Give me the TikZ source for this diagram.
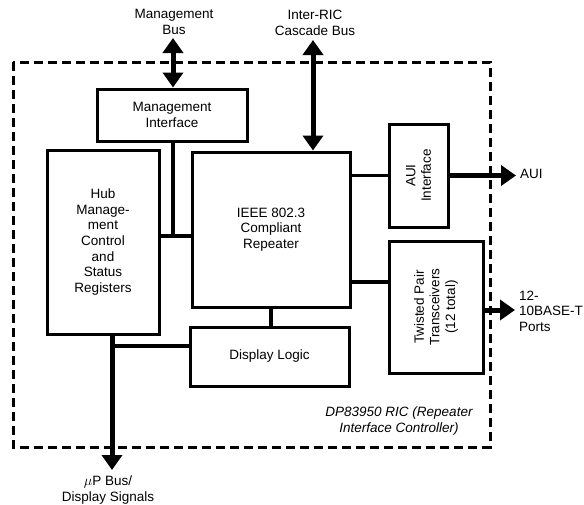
\documentclass[tikz,border=0pt]{standalone}
\usepackage{fontspec}
\setmainfont{Liberation Sans}
\usetikzlibrary{arrows.meta}

\begin{document}
\begin{tikzpicture}[x=1pt, y=-1pt,
  every node/.style={font=\fontsize{13.5}{15.6}\selectfont, align=center, inner sep=0pt},
  bloc/.style={draw, line width=3pt},
  lien/.style={line width=3.5pt},
  fleche/.style={line width=5pt, -{Triangle[length=15pt,width=20pt]}},
  fleche2/.style={line width=5pt, {Triangle[length=15pt,width=20pt]}-{Triangle[length=15pt,width=20pt]}}]

\useasboundingbox (0,0) rectangle (584,504);

% Cadre du circuit (en pointillés)
\draw[line width=3pt, dash pattern=on 9pt off 5pt] (13,62) rectangle (490,447);

% Blocs
\node[bloc, minimum width=150pt, minimum height=52pt] (mgi) at (172,115) {Management\\Interface};
\node[bloc, minimum width=112pt, minimum height=184pt] (hub) at (103,242) {Hub\\Manage-\\ment\\Control\\and\\Status\\Registers};
\node[bloc, minimum width=158pt, minimum height=155pt] (rep) at (271,229.5) {IEEE 802.3\\Compliant\\Repeater};
\node[bloc, minimum width=159pt, minimum height=59pt] (disp) at (269.5,356.5) {Display Logic};
\node[bloc, minimum width=59pt, minimum height=103pt] (aui) at (418.5,175.5) {};
\node[rotate=90] at (aui) {AUI\\Interface};
\node[bloc, minimum width=94pt, minimum height=132pt] (tp) at (436,307) {};
\node[rotate=90] at (tp) {Twisted Pair\\Transceivers\\(12 total)};

% Points de liaison
\coordinate (j) at (173,236);
\coordinate (k) at (112,346);
\coordinate (up) at (112,470);
\coordinate (mb) at (173,38);
\coordinate (ric) at (313,40);
\coordinate (tpin) at (389,282);
\coordinate (auiout) at (516,175.5);
\coordinate (ports) at (515,310);

% Liaisons internes
\draw[lien] (mgi.south -| j) -- (j);
\draw[lien] (hub.east |- j) -- (rep.west |- j);
\draw[lien] (rep.south) -- (rep.south |- disp.north);
\draw[lien] (k) -- (disp.west |- k);
\draw[lien] (rep.east |- aui.west) -- (aui.west);
\draw[lien] (rep.east |- tpin) -- (tpin);

% Bus et sorties
\draw[fleche2] (mb) -- (mb |- mgi.north);
\draw[fleche2] (ric) -- (ric |- rep.north);
\draw[fleche] (hub.south -| up) -- (up);
\draw[fleche] (aui.east) -- (auiout);
\draw[fleche] (tp.east |- ports) -- (ports);

% Textes
\node (lmb) at (174,22) {Management\\Bus};
\node (lric) at (315,23) {Inter-RIC\\Cascade Bus};
\node[anchor=west] (laui) at (520,174) {AUI};
\node[anchor=west, align=left] (lports) at (519,311) {12-\\10BASE-T\\Ports};
\node (lup) at (108,490) {$\mu$P Bus/\\Display Signals};
\node[font=\fontsize{13.5}{16.5}\selectfont\itshape] (lric2) at (399,421) {DP83950 RIC (Repeater\\Interface Controller)};

\end{tikzpicture}
\end{document}
